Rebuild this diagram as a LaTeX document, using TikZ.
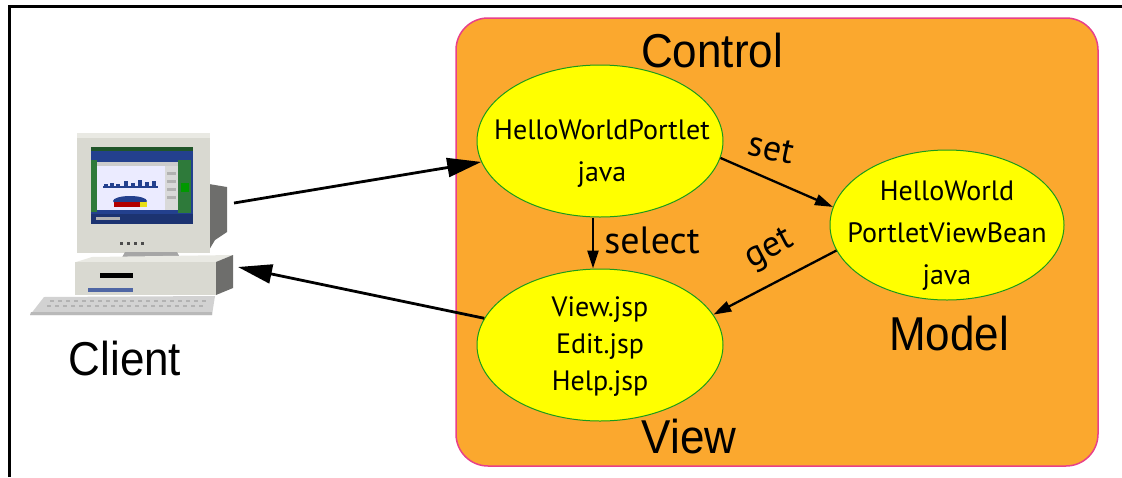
\documentclass[tikz,border=0pt]{standalone}
\usepackage{fontspec}
\usepackage{graphicx}
\setmainfont{Liberation Sans}
\newfontfamily\handfont{PT Sans}
\usetikzlibrary{arrows.meta,shapes.geometric}

\definecolor{panelorange}{HTML}{FBA82E}
\definecolor{panelrim}{HTML}{E8408A}
\definecolor{bubblefill}{HTML}{FFFF00}
\definecolor{bubblerim}{HTML}{1A9A1A}
\definecolor{casing}{HTML}{D9D9D1}
\definecolor{casinglight}{HTML}{E9E9E3}
\definecolor{casingdark}{HTML}{6E6E6C}
\definecolor{screenblue}{HTML}{23408E}
\definecolor{screengreen}{HTML}{2E7A3A}

\begin{document}
\begin{tikzpicture}[x=1pt,y=-1pt,
  bubble/.style={ellipse,draw=bubblerim,line width=1pt,fill=bubblefill,inner sep=0pt},
  bubbletext/.style={font=\handfont\fontsize{28}{42}\selectfont,align=center,inner sep=0pt},
  title/.style={font=\fontsize{44}{44}\selectfont,inner sep=0pt,anchor=base},
  verb/.style={font=\handfont\fontsize{36}{36}\selectfont,inner sep=0pt},
  bigarrow/.style={line width=2.8pt,-{Triangle[length=34pt,width=19pt]}},
  smallarrow/.style={line width=2.3pt,-{Triangle[length=18pt,width=11pt]}},
]
\useasboundingbox (0,0) rectangle (1122,477);

% outer frame (top and left edges)
\draw[line width=2.5pt] (9.5,477) -- (9.5,6.5) -- (1122,6.5);

% MVC panel
\node[draw=panelrim,line width=1.5pt,fill=panelorange,rounded corners=32pt,
      minimum width=642pt,minimum height=448pt,inner sep=0pt] (panel) at (777,242) {};

% ---- client computer icon ----
\begin{scope}
  % monitor back
  \fill[casingdark] (209,184) -- (227,187) -- (227,232) -- (215,240) -- (209,250) -- cycle;
  % monitor front
  \fill[casing] (77,133) rectangle (210,253);
  \fill[casinglight] (77,133) rectangle (210,138);
  % screen
  \fill[screenblue] (91,147) rectangle (193,224);
  \fill[screengreen!70!black] (91,147) rectangle (193,151);
  \fill[screengreen] (91,160) rectangle (97,212);
  \fill[screengreen] (178,160) rectangle (191,213);
  \fill[green!60!black] (181,183) rectangle (189,192);
  \fill[white!92!blue] (97,162) rectangle (165,210);
  \fill[gray!40] (97,162) rectangle (178,166);
  \fill[gray!30] (165,166) rectangle (178,210);
  \foreach \gy in {172,180,188,196} \fill[gray!60] (167,\gy) rectangle (176,\gy+3);
  % bar marks in the window
  \foreach \bx/\bh in {104/2,110/3,116/2,124/5,131/3,138/6,145/4,152/5}
    \fill[screenblue] (\bx,186) rectangle (\bx+4,186-\bh);
  \fill[screenblue] (103,186) rectangle (158,188);
  % coloured ellipse
  \fill[screenblue] (130,201) ellipse [x radius=17, y radius=5];
  \fill[red!70!black] (114,202) rectangle (140,207);
  \fill[yellow!90!black] (140,202) rectangle (147,207);
  % taskbar
  \fill[screenblue!80!black] (91,214) rectangle (193,224);
  \fill[gray!60] (96,217) rectangle (120,220);
  % front buttons
  \foreach \kx in {120,127,134,141} \fill[gray!60!black] (\kx,242) rectangle (\kx+3,245);
  % stand
  \fill[gray!70] (125,252) -- (177,252) -- (182,261) -- (120,261) -- cycle;
  % base unit
  \fill[casinglight] (76,262) -- (92,257) -- (233,255) -- (216,262) -- cycle;
  \fill[casing] (75,262) rectangle (216,295);
  \fill[casingdark] (216,262) -- (233,255) -- (233,288) -- (216,295) -- cycle;
  \fill[black] (100,273) rectangle (133,278);
  \fill[screenblue!80] (88,288) rectangle (133,292);
  % keyboard
  \fill[gray!35] (30,315) -- (44,297) -- (215,296) -- (212,315) -- cycle;
  \fill[gray!55] (30,315) -- (212,315) -- (212,312) -- (31,312) -- cycle;
  \foreach \kx in {50,58,...,206} {
    \fill[gray!60] (\kx,300) rectangle (\kx+4,302);
    \fill[gray!60] (\kx-3,305) rectangle (\kx+1,307);
  }
\end{scope}
\node[inner sep=0pt,minimum width=203pt,minimum height=182pt] (pc) at (131,224) {};
\coordinate (pcout) at (234,203);
\coordinate (pcin) at (238,267);

% ---- bubbles ----
\node[bubble,minimum width=246pt,minimum height=152pt] (ctrl) at (600,141) {};
\node[bubble,minimum width=234pt,minimum height=150pt] (model) at (947,225) {};
\node[bubble,minimum width=246pt,minimum height=152pt] (view) at (600,345) {};

\node[bubbletext] (ctrltxt) at (602,154) {HelloWorldPortlet\\java};
\node[bubbletext] (modeltxt) at (947,236) {HelloWorld\\PortletViewBean\\java};
\node[bubbletext,font=\handfont\fontsize{28}{37}\selectfont] (viewtxt) at (600,347) {View.jsp\\Edit.jsp\\Help.jsp};

% ---- titles ----
\node[title] (ctrltitle) at (712,67) {\scalebox{1}[1.08]{Control}};
\node[title] (modeltitle) at (949,350) {\scalebox{1}[1.08]{Model}};
\node[title] (viewtitle) at (689,453) {\scalebox{1}[1.08]{View}};
\node[title] (clienttitle) at (125,375) {\scalebox{1}[1.08]{Client}};

% ---- connectors ----
\draw[bigarrow] (pcout) -- (ctrl.190);
\draw[bigarrow] (view.167) -- (pcin);
\draw[smallarrow] (ctrl.-8) -- (model.171);
\draw[smallarrow] (model.193) -- (view.15);
\draw[smallarrow] ([xshift=-7pt]ctrl.south) -- ([xshift=-7pt]view.north);

% ---- connector labels ----
\node[verb,rotate=-12] (setlbl) at (771,149) {set};
\node[verb,rotate=28] (getlbl) at (770,250) {get};
\node[verb,anchor=base,font=\handfont\fontsize{38}{38}\selectfont] (sellbl) at (652,253) {select};
\end{tikzpicture}
\end{document}
